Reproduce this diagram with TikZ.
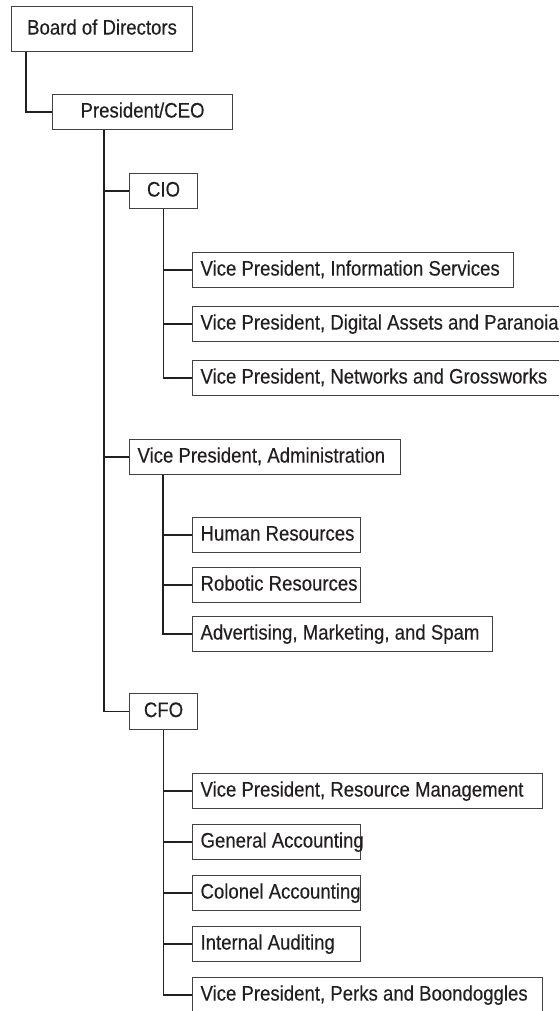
\documentclass[tikz,border=0pt]{standalone}
\usepackage{fontspec}
\setmainfont{Liberation Sans}[FakeStretch=0.885,FakeBold=0.3]
\definecolor{ink}{HTML}{231F20}
\newcommand{\lbox}[2]{\makebox[#1][l]{#2}}
\begin{document}
\begin{tikzpicture}[x=1pt,y=-1pt,
  every node/.style={font=\fontsize{21}{24}\selectfont, text=ink},
  box/.style={draw=ink!85, line width=1.1pt, anchor=north west, inner sep=0pt,
    text height=15pt, text depth=4pt},
  sub/.style={box, minimum height=35pt, inner xsep=8pt},
  conn/.style={draw=ink, line width=1.8pt}]
\useasboundingbox (0,0) rectangle (559,1011);
\clip (0,0) rectangle (559,1011);
% top-level boxes
\node[box, minimum width=181pt, minimum height=45pt] (board) at (11,6) {Board of Directors};
\node[box, minimum width=180pt, minimum height=35pt] (pres) at (52,94) {President/CEO};
\node[box, minimum width=68pt, minimum height=35pt] (cio) at (129,173) {CIO};
\node[sub] (admin) at (129,439) {\lbox{255pt}{Vice President, Administration}};
\node[box, minimum width=68pt, minimum height=36pt] (cfo) at (129,693) {CFO};
% CIO reports
\node[sub] (vpinfo) at (192,252) {\lbox{305pt}{Vice President, Information Services}};
\node[sub] (vpdig) at (192,306) {\lbox{356pt}{Vice President, Digital Assets and Paranoia}};
\node[sub] (vpnet) at (192,360) {\lbox{356pt}{Vice President, Networks and Grossworks}};
% Administration reports
\node[sub] (hr) at (192,517) {\lbox{152pt}{Human Resources}};
\node[sub] (rob) at (192,567) {\lbox{152pt}{Robotic Resources}};
\node[sub] (adv) at (192,616) {\lbox{284pt}{Advertising, Marketing, and Spam}};
% CFO reports
\node[sub] (rm) at (192,773) {\lbox{334pt}{Vice President, Resource Management}};
\node[sub] (ga) at (192,824) {\lbox{152pt}{General Accounting}};
\node[sub] (ca) at (192,875) {\lbox{152pt}{Colonel Accounting}};
\node[sub] (ia) at (192,926) {\lbox{152pt}{Internal Auditing}};
\node[sub] (perks) at (192,977) {\lbox{334pt}{Vice President, Perks and Boondoggles}};
% connectors
\coordinate (bt) at ([xshift=15pt]board.south west);
\draw[conn] (bt) |- (pres.west);
\coordinate (pt) at ([xshift=52pt]pres.south west);
\draw[conn] (pt) |- (cio.west);
\draw[conn] (pt) |- (admin.west);
\draw[conn] (pt) |- (cfo.west);
\draw[conn] (cio.south) |- (vpinfo.west);
\draw[conn] (cio.south) |- (vpdig.west);
\draw[conn] (cio.south) |- (vpnet.west);
\coordinate (at) at ([xshift=34pt]admin.south west);
\draw[conn] (at) |- (hr.west);
\draw[conn] (at) |- (rob.west);
\draw[conn] (at) |- (adv.west);
\draw[conn] (cfo.south) |- (rm.west);
\draw[conn] (cfo.south) |- (ga.west);
\draw[conn] (cfo.south) |- (ca.west);
\draw[conn] (cfo.south) |- (ia.west);
\draw[conn] (cfo.south) |- (perks.west);
\end{tikzpicture}
\end{document}
